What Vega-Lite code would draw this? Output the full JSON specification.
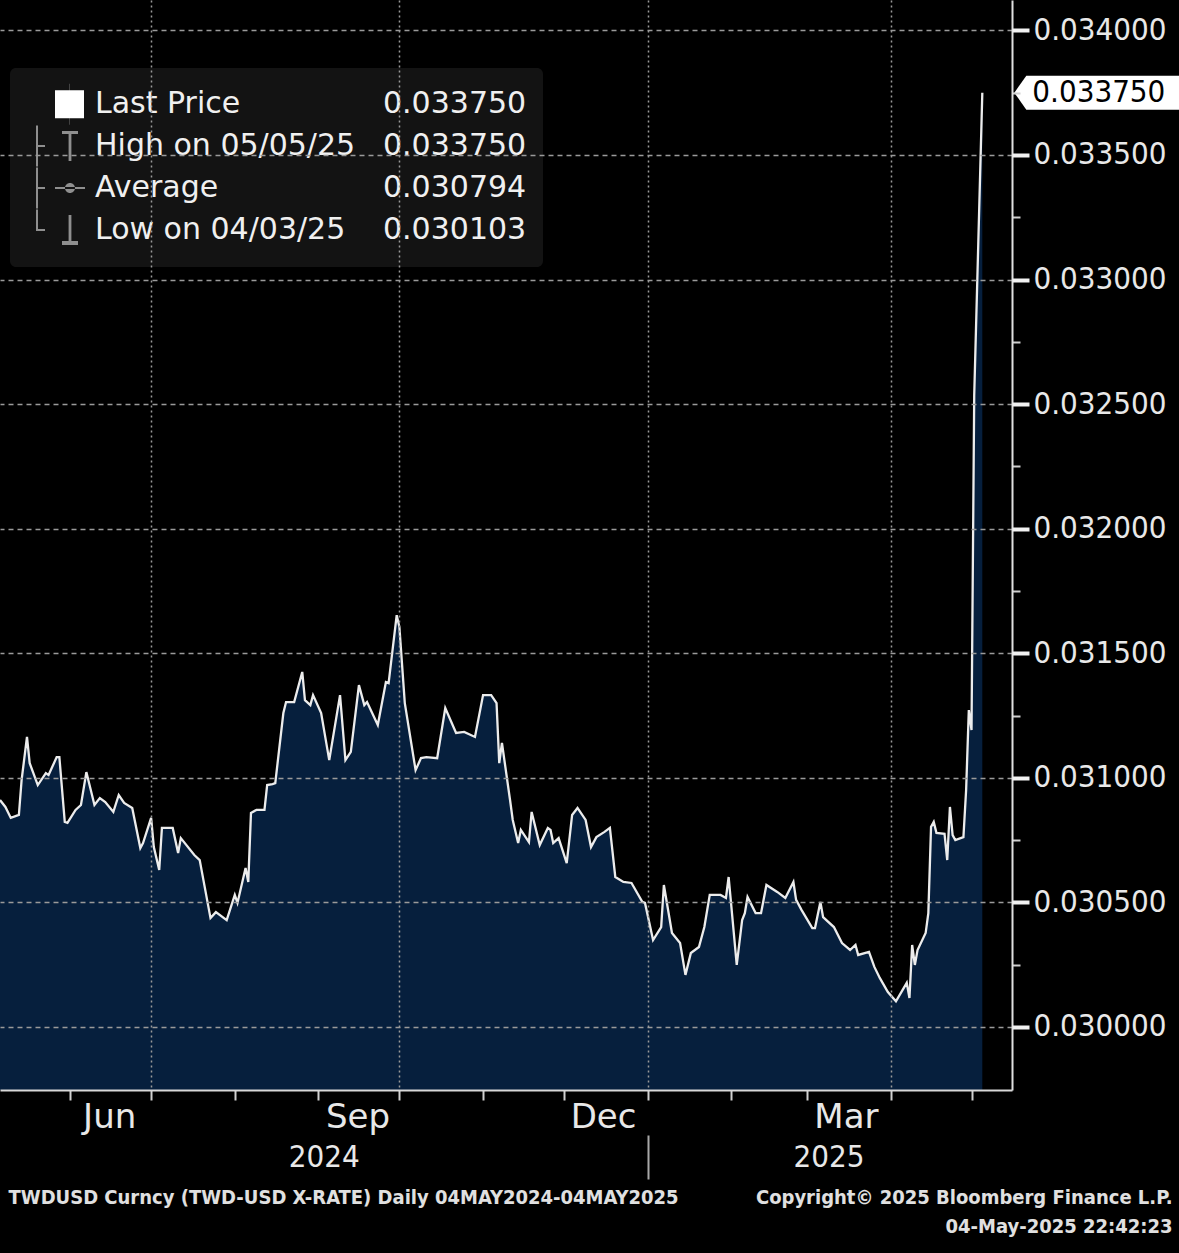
{
  "$schema": "https://vega.github.io/schema/vega-lite/v6.json",
  "width": 1012,
  "height": 1090,
  "autosize": {"type": "none"},
  "padding": {"left": 0, "top": 0, "right": 167, "bottom": 163},
  "background": "#000000",
  "data": {
    "format": {"parse": {"date": "date"}},
    "values": [
      {"date": "2024-05-06", "price": 0.030911},
      {"date": "2024-05-08", "price": 0.030883},
      {"date": "2024-05-10", "price": 0.030839},
      {"date": "2024-05-13", "price": 0.030851},
      {"date": "2024-05-14", "price": 0.030991},
      {"date": "2024-05-16", "price": 0.031164},
      {"date": "2024-05-17", "price": 0.031059},
      {"date": "2024-05-20", "price": 0.030971},
      {"date": "2024-05-23", "price": 0.031019},
      {"date": "2024-05-24", "price": 0.031011},
      {"date": "2024-05-27", "price": 0.031083},
      {"date": "2024-05-28", "price": 0.031083},
      {"date": "2024-05-30", "price": 0.030823},
      {"date": "2024-05-31", "price": 0.030819},
      {"date": "2024-06-03", "price": 0.030871},
      {"date": "2024-06-05", "price": 0.030891},
      {"date": "2024-06-07", "price": 0.031023},
      {"date": "2024-06-10", "price": 0.030891},
      {"date": "2024-06-12", "price": 0.030919},
      {"date": "2024-06-14", "price": 0.030903},
      {"date": "2024-06-17", "price": 0.030863},
      {"date": "2024-06-19", "price": 0.030931},
      {"date": "2024-06-21", "price": 0.030899},
      {"date": "2024-06-24", "price": 0.030879},
      {"date": "2024-06-27", "price": 0.030718},
      {"date": "2024-06-28", "price": 0.030738},
      {"date": "2024-07-01", "price": 0.030839},
      {"date": "2024-07-02", "price": 0.030722},
      {"date": "2024-07-04", "price": 0.030630},
      {"date": "2024-07-05", "price": 0.030799},
      {"date": "2024-07-09", "price": 0.030799},
      {"date": "2024-07-11", "price": 0.030698},
      {"date": "2024-07-12", "price": 0.030758},
      {"date": "2024-07-17", "price": 0.030690},
      {"date": "2024-07-19", "price": 0.030670},
      {"date": "2024-07-23", "price": 0.030437},
      {"date": "2024-07-25", "price": 0.030461},
      {"date": "2024-07-29", "price": 0.030429},
      {"date": "2024-08-01", "price": 0.030530},
      {"date": "2024-08-02", "price": 0.030498},
      {"date": "2024-08-05", "price": 0.030638},
      {"date": "2024-08-06", "price": 0.030582},
      {"date": "2024-08-07", "price": 0.030859},
      {"date": "2024-08-09", "price": 0.030871},
      {"date": "2024-08-12", "price": 0.030871},
      {"date": "2024-08-13", "price": 0.030971},
      {"date": "2024-08-15", "price": 0.030975},
      {"date": "2024-08-16", "price": 0.030979},
      {"date": "2024-08-19", "price": 0.031260},
      {"date": "2024-08-20", "price": 0.031304},
      {"date": "2024-08-23", "price": 0.031304},
      {"date": "2024-08-26", "price": 0.031425},
      {"date": "2024-08-27", "price": 0.031312},
      {"date": "2024-08-29", "price": 0.031292},
      {"date": "2024-08-30", "price": 0.031332},
      {"date": "2024-09-02", "price": 0.031260},
      {"date": "2024-09-05", "price": 0.031071},
      {"date": "2024-09-09", "price": 0.031332},
      {"date": "2024-09-11", "price": 0.031071},
      {"date": "2024-09-13", "price": 0.031104},
      {"date": "2024-09-16", "price": 0.031372},
      {"date": "2024-09-18", "price": 0.031292},
      {"date": "2024-09-19", "price": 0.031304},
      {"date": "2024-09-23", "price": 0.031212},
      {"date": "2024-09-26", "price": 0.031384},
      {"date": "2024-09-27", "price": 0.031380},
      {"date": "2024-09-30", "price": 0.031653},
      {"date": "2024-10-01", "price": 0.031605},
      {"date": "2024-10-03", "price": 0.031300},
      {"date": "2024-10-07", "price": 0.031031},
      {"date": "2024-10-09", "price": 0.031079},
      {"date": "2024-10-11", "price": 0.031083},
      {"date": "2024-10-15", "price": 0.031079},
      {"date": "2024-10-18", "price": 0.031280},
      {"date": "2024-10-22", "price": 0.031180},
      {"date": "2024-10-25", "price": 0.031184},
      {"date": "2024-10-29", "price": 0.031164},
      {"date": "2024-11-01", "price": 0.031332},
      {"date": "2024-11-04", "price": 0.031332},
      {"date": "2024-11-06", "price": 0.031300},
      {"date": "2024-11-07", "price": 0.031059},
      {"date": "2024-11-08", "price": 0.031140},
      {"date": "2024-11-11", "price": 0.030911},
      {"date": "2024-11-12", "price": 0.030831},
      {"date": "2024-11-14", "price": 0.030738},
      {"date": "2024-11-15", "price": 0.030791},
      {"date": "2024-11-18", "price": 0.030742},
      {"date": "2024-11-19", "price": 0.030863},
      {"date": "2024-11-22", "price": 0.030730},
      {"date": "2024-11-25", "price": 0.030799},
      {"date": "2024-11-26", "price": 0.030791},
      {"date": "2024-11-27", "price": 0.030738},
      {"date": "2024-11-29", "price": 0.030758},
      {"date": "2024-12-02", "price": 0.030658},
      {"date": "2024-12-04", "price": 0.030851},
      {"date": "2024-12-06", "price": 0.030879},
      {"date": "2024-12-09", "price": 0.030831},
      {"date": "2024-12-11", "price": 0.030722},
      {"date": "2024-12-13", "price": 0.030762},
      {"date": "2024-12-16", "price": 0.030783},
      {"date": "2024-12-18", "price": 0.030799},
      {"date": "2024-12-20", "price": 0.030602},
      {"date": "2024-12-23", "price": 0.030582},
      {"date": "2024-12-26", "price": 0.030578},
      {"date": "2024-12-30", "price": 0.030502},
      {"date": "2024-12-31", "price": 0.030498},
      {"date": "2025-01-03", "price": 0.030349},
      {"date": "2025-01-06", "price": 0.030401},
      {"date": "2025-01-07", "price": 0.030570},
      {"date": "2025-01-10", "price": 0.030377},
      {"date": "2025-01-13", "price": 0.030337},
      {"date": "2025-01-15", "price": 0.030209},
      {"date": "2025-01-17", "price": 0.030297},
      {"date": "2025-01-20", "price": 0.030321},
      {"date": "2025-01-22", "price": 0.030401},
      {"date": "2025-01-24", "price": 0.030530},
      {"date": "2025-01-28", "price": 0.030530},
      {"date": "2025-01-30", "price": 0.030518},
      {"date": "2025-01-31", "price": 0.030602},
      {"date": "2025-02-03", "price": 0.030249},
      {"date": "2025-02-05", "price": 0.030429},
      {"date": "2025-02-06", "price": 0.030457},
      {"date": "2025-02-07", "price": 0.030522},
      {"date": "2025-02-10", "price": 0.030457},
      {"date": "2025-02-12", "price": 0.030457},
      {"date": "2025-02-14", "price": 0.030570},
      {"date": "2025-02-18", "price": 0.030542},
      {"date": "2025-02-21", "price": 0.030518},
      {"date": "2025-02-24", "price": 0.030582},
      {"date": "2025-02-25", "price": 0.030510},
      {"date": "2025-02-27", "price": 0.030470},
      {"date": "2025-03-03", "price": 0.030397},
      {"date": "2025-03-04", "price": 0.030397},
      {"date": "2025-03-06", "price": 0.030502},
      {"date": "2025-03-07", "price": 0.030441},
      {"date": "2025-03-11", "price": 0.030401},
      {"date": "2025-03-14", "price": 0.030337},
      {"date": "2025-03-17", "price": 0.030309},
      {"date": "2025-03-19", "price": 0.030329},
      {"date": "2025-03-20", "price": 0.030289},
      {"date": "2025-03-24", "price": 0.030301},
      {"date": "2025-03-26", "price": 0.030241},
      {"date": "2025-03-28", "price": 0.030197},
      {"date": "2025-03-31", "price": 0.030140},
      {"date": "2025-04-03", "price": 0.030103},
      {"date": "2025-04-07", "price": 0.030177},
      {"date": "2025-04-08", "price": 0.030116},
      {"date": "2025-04-09", "price": 0.030329},
      {"date": "2025-04-10", "price": 0.030249},
      {"date": "2025-04-11", "price": 0.030309},
      {"date": "2025-04-14", "price": 0.030377},
      {"date": "2025-04-15", "price": 0.030457},
      {"date": "2025-04-16", "price": 0.030803},
      {"date": "2025-04-17", "price": 0.030823},
      {"date": "2025-04-18", "price": 0.030779},
      {"date": "2025-04-21", "price": 0.030775},
      {"date": "2025-04-22", "price": 0.030670},
      {"date": "2025-04-23", "price": 0.030883},
      {"date": "2025-04-24", "price": 0.030770},
      {"date": "2025-04-25", "price": 0.030750},
      {"date": "2025-04-28", "price": 0.030762},
      {"date": "2025-04-29", "price": 0.030951},
      {"date": "2025-04-30", "price": 0.031272},
      {"date": "2025-05-01", "price": 0.031192},
      {"date": "2025-05-02", "price": 0.032536},
      {"date": "2025-05-05", "price": 0.033750}
    ]
  },
  "resolve": {"axis": {"x": "independent", "y": "independent"}},
  "layer": [
    {
      "mark": {"type": "area", "color": "#061f3d", "clip": true},
      "encoding": {
        "x": {
          "field": "date",
          "type": "temporal",
          "scale": {"domain": [{"year": 2024, "month": 5, "date": 6}, {"year": 2025, "month": 5, "date": 16}]},
          "axis": {
            "orient": "bottom",
            "zindex": 1,
            "values": [
              {"year": 2024, "month": 6, "date": 1}, {"year": 2024, "month": 7, "date": 1},
              {"year": 2024, "month": 8, "date": 1}, {"year": 2024, "month": 9, "date": 1},
              {"year": 2024, "month": 10, "date": 1}, {"year": 2024, "month": 11, "date": 1},
              {"year": 2024, "month": 12, "date": 1}, {"year": 2025, "month": 1, "date": 1},
              {"year": 2025, "month": 2, "date": 1}, {"year": 2025, "month": 3, "date": 1},
              {"year": 2025, "month": 4, "date": 1}, {"year": 2025, "month": 5, "date": 1}
            ],
            "format": "%b",
            "labelExpr": "month(datum.value) % 3 == 2 ? datum.label : ''",
            "labelOffset": 39,
            "labelPadding": 0,
            "labelFont": "DejaVu Sans",
            "labelFontSize": 34,
            "labelColor": "#e8e8e8",
            "labelOverlap": false,
            "labelFlush": false,
            "labelBound": false,
            "tickSize": 10,
            "tickWidth": 2,
            "tickColor": "#d0d0d0",
            "domainColor": "#d8d8d8",
            "domainWidth": 2,
            "grid": true,
            "gridColor": "#9a9a9a",
            "gridWidth": 1.5,
            "gridDash": [2, 3],
            "gridOpacity": {"condition": {"test": "month(datum.value) % 3 == 0", "value": 1}, "value": 0},
            "title": "TWDUSD Curncy (TWD-USD X-RATE)  Daily 04MAY2024-04MAY2025",
            "titleX": 8,
            "titleY": 107,
            "titleAlign": "left",
            "titleAnchor": "start",
            "titleBaseline": "middle",
            "titleFont": "DejaVu Sans Condensed, DejaVu Sans",
            "titleFontSize": 20,
            "titleFontWeight": "bold",
            "titleColor": "#e0e0e0"
          }
        },
        "y": {
          "field": "price",
          "type": "quantitative",
          "scale": {"domain": [0.029747, 0.034122], "nice": false, "zero": false},
          "axis": {
            "orient": "right",
            "zindex": 1,
            "title": null,
            "values": [0.03, 0.03025, 0.0305, 0.03075, 0.031, 0.03125, 0.0315, 0.03175, 0.032, 0.03225, 0.0325, 0.03275, 0.033, 0.03325, 0.0335, 0.03375, 0.034],
            "labels": false,
            "grid": false,
            "tickSize": 8,
            "tickWidth": 2,
            "tickColor": "#cfcfcf",
            "domainColor": "#e0e0e0",
            "domainWidth": 2
          }
        }
      }
    },
    {
      "mark": {"type": "line", "color": "#ececec", "strokeWidth": 2.3, "clip": true},
      "encoding": {
        "x": {
          "field": "date",
          "type": "temporal",
          "axis": {
            "orient": "bottom",
            "offset": 45,
            "values": [
              {"year": 2024, "month": 9, "date": 3},
              {"year": 2025, "month": 1, "date": 1},
              {"year": 2025, "month": 3, "date": 9}
            ],
            "format": "%Y",
            "labelExpr": "month(datum.value) == 0 ? '' : datum.label",
            "labelPadding": -37,
            "labelFont": "DejaVu Sans Condensed, DejaVu Sans",
            "labelFontSize": 31,
            "labelColor": "#e8e8e8",
            "labelOverlap": false,
            "labelFlush": false,
            "labelBound": false,
            "domain": false,
            "grid": false,
            "tickSize": 44,
            "tickWidth": 2,
            "tickColor": "#a8a8a8",
            "tickOpacity": {"condition": {"test": "month(datum.value) == 0", "value": 1}, "value": 0},
            "title": ["Copyright© 2025 Bloomberg Finance L.P.", "04-May-2025 22:42:23"],
            "titleX": 1172,
            "titleY": 52,
            "titleAlign": "right",
            "titleAnchor": "end",
            "titleBaseline": "top",
            "titleLineHeight": 29,
            "titleFont": "DejaVu Sans Condensed, DejaVu Sans",
            "titleFontSize": 20,
            "titleFontWeight": "bold",
            "titleColor": "#e0e0e0"
          }
        },
        "y": {
          "field": "price",
          "type": "quantitative",
          "axis": {
            "orient": "right",
            "zindex": 1,
            "title": null,
            "values": [0.03, 0.0305, 0.031, 0.0315, 0.032, 0.0325, 0.033, 0.0335, 0.034],
            "format": ".6f",
            "labelFont": "DejaVu Sans Condensed, DejaVu Sans",
            "labelFontSize": 31,
            "labelColor": "#e8e8e8",
            "labelPadding": 4,
            "labelOverlap": false,
            "labelFlush": false,
            "tickSize": 17,
            "tickWidth": 4,
            "tickColor": "#f2f2f2",
            "domain": false,
            "grid": true,
            "gridColor": "#9a9a9a",
            "gridWidth": 1.5,
            "gridDash": [5, 4]
          }
        }
      }
    },
    {
      "transform": [
        {"joinaggregate": [{"op": "max", "field": "date", "as": "last"}]},
        {"filter": "time(datum.date) == time(datum.last)"}
      ],
      "encoding": {
        "x": {"field": "date", "type": "temporal", "axis": null},
        "y": {"field": "price", "type": "quantitative", "axis": null}
      },
      "layer": [
        {
          "mark": {"type": "point", "shape": "M32,0L44,-17L200,-17L200,17L44,17Z", "size": 4, "filled": true, "color": "#ffffff", "opacity": 1, "strokeWidth": 0}
        },
        {
          "mark": {"type": "text", "align": "left", "dx": 50, "font": "DejaVu Sans Condensed, DejaVu Sans", "fontSize": 31, "color": "#000000"},
          "encoding": {"text": {"field": "price", "type": "quantitative", "format": ".6f"}}
        }
      ]
    },
    {
      "data": {
        "values": [
          {"item": "Last Price"},
          {"item": "0.033750"},
          {"item": "High on 05/05/25"},
          {"item": "0.033750\u200b"},
          {"item": "Average"},
          {"item": "0.030794"},
          {"item": "Low on 04/03/25"},
          {"item": "0.030103"}
        ]
      },
      "mark": {"type": "point", "filled": true, "opacity": 0},
      "encoding": {
        "shape": {
          "field": "item",
          "type": "nominal",
          "sort": null,
          "scale": {
            "range": [
              "M0.45,-0.7H1.9V0.7H0.45ZM1.17,-1.025H1.18V1.025H1.17Z",
              "M0,-1.025H0.01V1.025H0Z",
              "M-0.5,-1.025H-0.4V1.025H-0.5ZM-0.4,-0.05H-0.05V0.05H-0.4ZM0.8,-0.75H1.6V-0.6H1.27V0.75H1.13V-0.6H0.8Z",
              "M0,-1.025H0.01V1.025H0Z",
              "M-0.5,-1.025H-0.4V1.025H-0.5ZM-0.4,-0.05H-0.05V0.05H-0.4ZM0.45,-0.05H1.95V0.05H0.45ZM0.95,0A0.25,0.25 0 1,0 1.45,0A0.25,0.25 0 1,0 0.95,0Z",
              "M0,-1.025H0.01V1.025H0Z",
              "M-0.5,-1.025H-0.4V0H-0.5ZM-0.5,-0.05H-0.05V0.05H-0.5ZM1.13,-0.75H1.27V0.55H1.6V0.75H0.8V0.55H1.13Z",
              "M0,-1.025H0.01V1.025H0Z"
            ]
          },
          "legend": {
            "orient": "none",
            "legendX": 10,
            "legendY": 68,
            "title": null,
            "direction": "horizontal",
            "columns": 2,
            "padding": 16,
            "cornerRadius": 6,
            "fillColor": "rgba(22,22,22,0.85)",
            "symbolSize": 1600,
            "symbolStrokeWidth": 0,
            "symbolOpacity": 1,
            "labelFont": "DejaVu Sans",
            "labelFontSize": 30,
            "labelColor": "#f0f0f0",
            "labelOffset": 29,
            "labelLimit": 400,
            "rowPadding": 0,
            "columnPadding": 0,
            "encode": {"labels": {"update": {"dx": {"signal": "test(/^0[.]/, datum.label) ? -42 : 0"}}}}
          }
        },
        "color": {
          "field": "item",
          "type": "nominal",
          "sort": null,
          "scale": {"range": ["#ffffff", "transparent", "#8f8f8f", "transparent", "#8f8f8f", "transparent", "#8f8f8f", "transparent"]},
          "legend": {
            "orient": "none",
            "legendX": 10,
            "legendY": 68,
            "title": null,
            "direction": "horizontal",
            "columns": 2,
            "padding": 16,
            "cornerRadius": 6,
            "fillColor": "rgba(22,22,22,0.85)",
            "symbolSize": 1600,
            "symbolStrokeWidth": 0,
            "symbolOpacity": 1,
            "labelFont": "DejaVu Sans",
            "labelFontSize": 30,
            "labelColor": "#f0f0f0",
            "labelOffset": 29,
            "labelLimit": 400,
            "rowPadding": 0,
            "columnPadding": 0,
            "encode": {"labels": {"update": {"dx": {"signal": "test(/^0[.]/, datum.label) ? -42 : 0"}}}}
          }
        }
      }
    }
  ],
  "config": {
    "view": {"stroke": null}
  }
}
